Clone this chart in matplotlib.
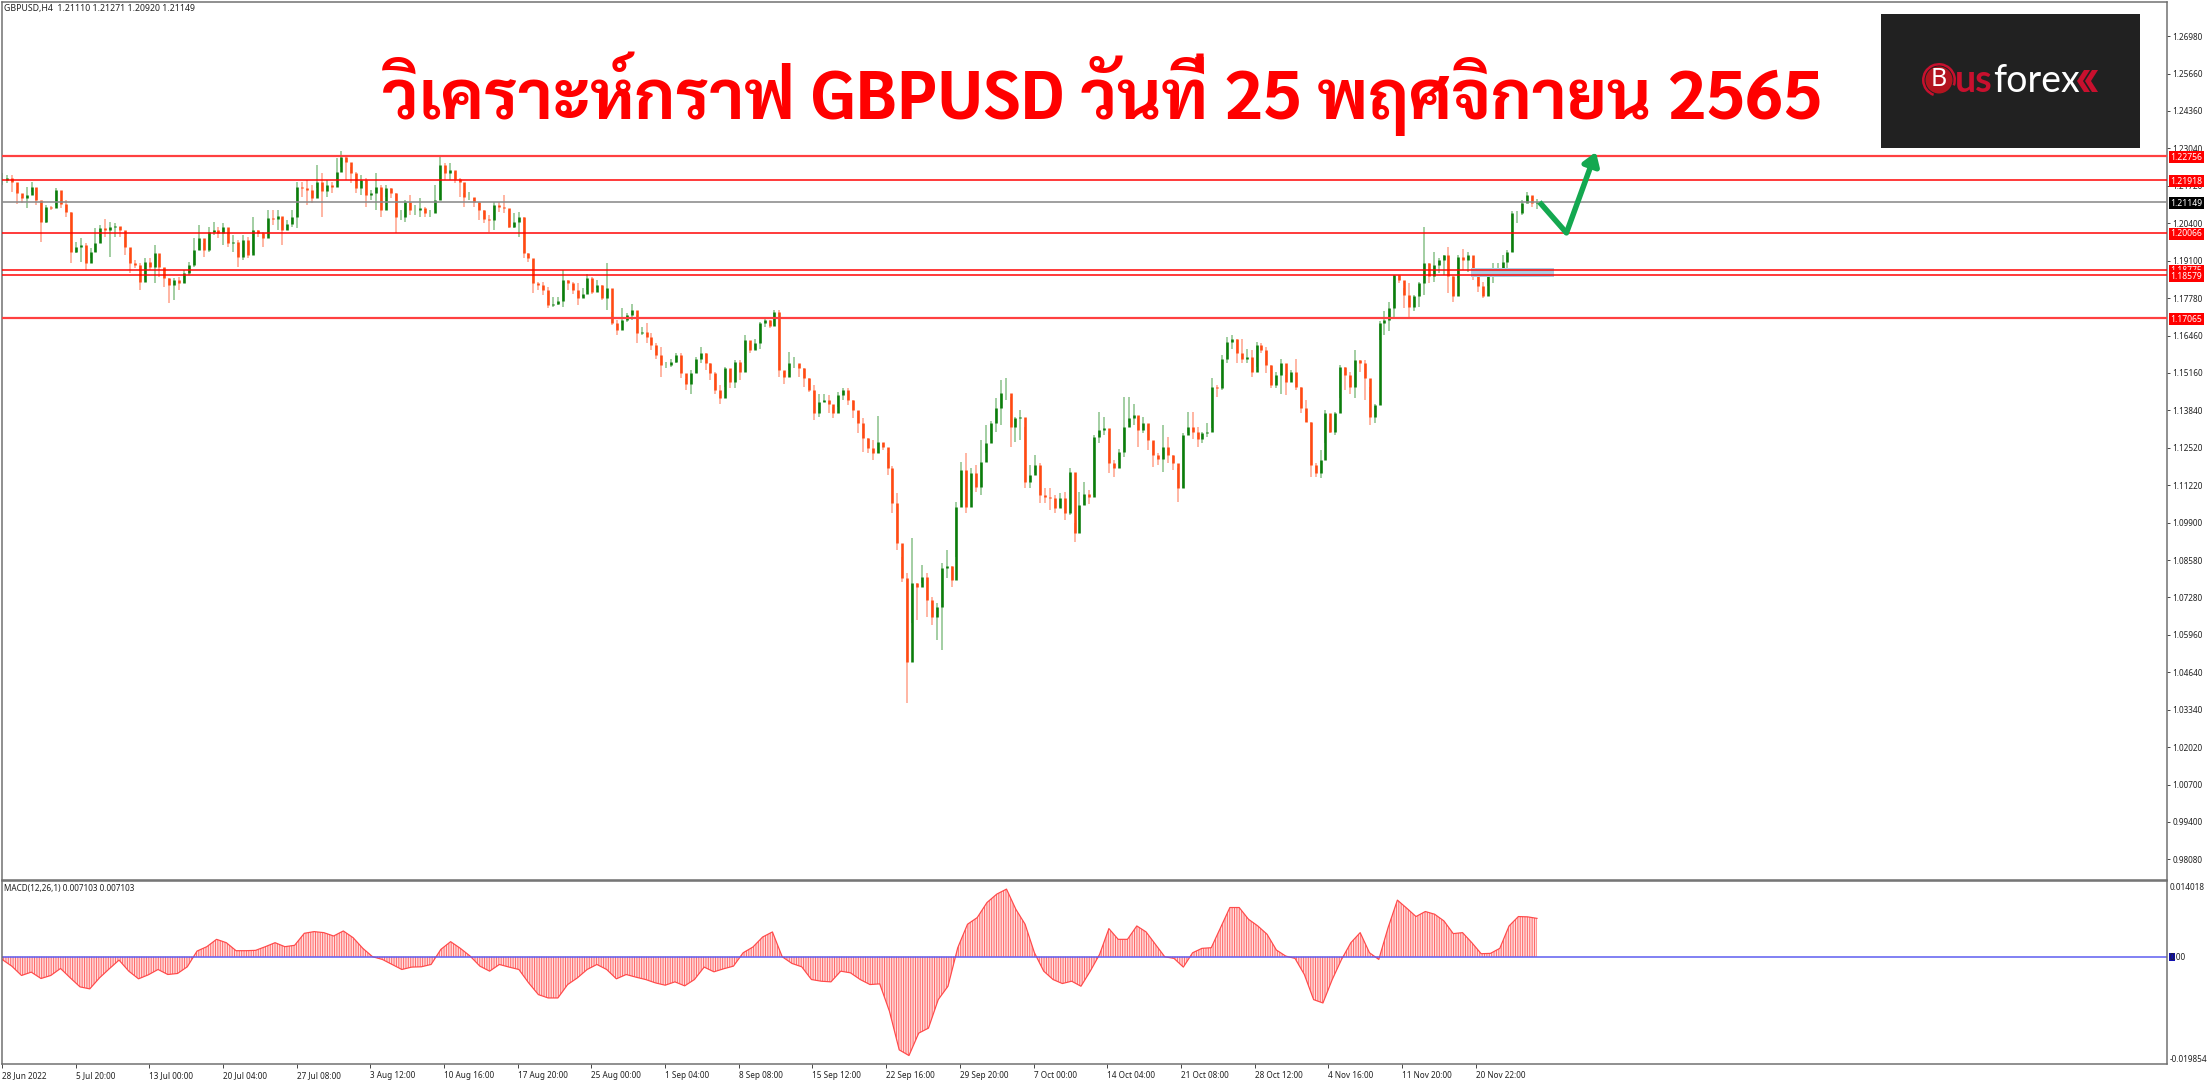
import numpy as np
from matplotlib import pyplot as plt
from matplotlib.patches import Rectangle, Circle, Polygon, Wedge

# prices in 1/10000, one candle for every second H4 bar
closes = [12192,12198,12187,12146,12128,12140,12169,12122,12046,12097,12093,12157,12108,12081,11941,11956,11964,11900,11941,11970,12023,12017,12029,12031,12017,11959,11902,11894,11836,11906,11888,11935,11888,11847,11824,11842,11830,11865,11894,11947,11988,11947,12011,12017,12005,12029,11970,11976,11923,11982,11929,12017,12005,11988,12058,12054,12066,12017,12037,12064,12167,12163,12157,12128,12187,12155,12175,12169,12222,12274,12257,12216,12163,12192,12140,12146,12169,12087,12163,12146,12064,12064,12116,12087,12087,12093,12075,12075,12122,12245,12216,12228,12195,12187,12134,12134,12116,12087,12054,12052,12105,12099,12093,12029,12046,12064,11935,11918,11830,11824,11806,11754,
11759,11769,11841,11830,11806,11777,11794,11847,11800,11824,11777,11815,11689,11666,11701,11718,11736,11654,11660,11642,11613,11578,11543,11543,11555,11578,11514,11478,11514,11563,11584,11549,11514,11455,11426,11531,11484,11555,11519,11631,11596,11619,11689,11701,11680,11730,11525,11502,11549,11549,11531,11496,11455,11373,11414,11422,11408,11373,11438,11455,11420,11385,
11339,11286,11251,11233,11274,11257,11181,11058,10918,10795,10502,10777,10765,10800,10719,10660,10695,10830,10836,10789,11046,11175,11046,11163,11116,11204,11268,11339,11391,11444,11444,11327,11356,11362,11134,11157,11192,11087,11081,11075,11040,11075,11023,11169,10953,
11051,11092,11081,11291,11315,11321,11198,11180,11239,11326,11356,11367,11315,11338,11280,11227,11215,11256,11227,11198,11110,11297,11326,11309,11285,11303,11309,11467,11461,11566,11625,11633,11584,11566,11572,11519,11613,11595,11543,11473,11508,11549,11484,11519,11467,11391,11344,11192,11163,11209,11373,11309,11373,11537,11508,11467,11560,11549,11496,11361,11402,
11690,11702,11743,11860,11842,11789,11748,11784,11830,11900,11854,11895,11912,11930,11854,11784,11924,11912,11930,11877,11819,11784,11860,11877,11883,11906,11941,12076,12076,12111,12140,12113,12115]
highs = [12216,12210,12210,12157,12134,12169,12187,12163,12116,12105,12101,12163,12122,12122,12081,11976,11988,11970,11953,12023,12035,12054,12046,12040,12029,11994,11935,11912,11900,11918,11918,11964,11912,11882,11847,11847,11853,11877,11906,11988,12035,11970,12029,12046,12029,12040,12005,12000,11982,12000,11994,12064,12017,12011,12087,12087,12087,12058,12052,12087,12187,12187,12192,12175,12245,12216,12192,12187,12269,12294,12280,12239,12222,12210,12198,12157,12216,12175,12175,12163,12146,12087,12122,12140,12105,12128,12099,12087,12175,12274,12251,12251,12222,12198,12146,12152,12128,12116,12087,12070,12116,12116,12140,12087,12075,12081,12064,11935,11912,11836,11836,11818,
11783,11783,11876,11841,11835,11830,11812,11862,11851,11841,11824,11900,11730,11701,11742,11724,11759,11718,11677,11691,11654,11619,11607,11555,11566,11586,11584,11493,11525,11572,11607,11586,11549,11519,11473,11537,11525,11560,11560,11648,11619,11636,11695,11710,11701,11736,11736,11519,11590,11572,11543,11531,11496,11473,11443,11443,11438,11397,11449,11461,11461,11420,
11380,11356,11286,11280,11364,11268,11233,11187,11093,10871,10812,10935,10777,10841,10812,10730,10707,10847,10894,10836,11064,11204,11233,11181,11192,11280,11333,11345,11426,11491,11497,11432,11362,11385,11327,11192,11228,11198,11111,11111,11087,11093,11099,11181,10988,
11098,11133,11104,11297,11379,11362,11309,11209,11250,11432,11432,11408,11362,11362,11332,11274,11233,11332,11289,11227,11180,11303,11379,11379,11326,11309,11338,11496,11473,11578,11642,11648,11636,11636,11601,11595,11625,11619,11607,11543,11519,11566,11508,11525,11563,11467,11420,11344,11198,11244,11385,11344,11379,11543,11537,11519,11595,11560,11560,11467,11408,
11696,11731,11766,11860,11860,11813,11830,11789,11836,12027,11900,11941,11918,11930,11959,11854,11930,11950,11941,11901,11883,11836,11865,11901,11901,11930,11947,12082,12082,12123,12152,12134,12127]
lows = [12175,12181,12152,12108,12111,12093,12152,12105,11976,12040,12087,12105,12093,12064,11900,11935,11906,11877,11918,11941,11994,11994,11923,11994,11994,11929,11865,11882,11806,11842,11877,11830,11853,11818,11760,11771,11806,11830,11859,11888,11947,11923,11941,12000,11988,11964,11959,11941,11888,11912,11918,11935,11994,11959,12005,12035,12017,11964,12017,12029,12023,12134,12105,12111,12163,12064,12134,12146,12192,12239,12192,12181,12146,12140,12099,12122,12087,12064,12134,12128,12005,12052,12046,12070,12070,12064,12064,12061,12087,12122,12192,12192,12181,12134,12099,12122,12099,12052,12040,12011,12017,12081,12075,12023,12023,11994,11918,11906,11795,11806,11789,11742,
11748,11753,11748,11806,11794,11753,11783,11806,11794,11812,11771,11736,11683,11648,11689,11695,11701,11619,11648,11619,11595,11566,11502,11531,11537,11549,11496,11455,11443,11514,11549,11525,11490,11443,11406,11467,11461,11461,11490,11549,11584,11601,11601,11677,11672,11683,11502,11478,11525,11531,11502,11467,11449,11350,11362,11414,11373,11356,11397,11420,11402,11356,
11304,11239,11233,11210,11233,11245,11157,11023,10894,10783,10356,10637,10648,10777,10660,10631,10578,10543,10795,10765,10871,11070,11023,11105,11099,11087,11233,11280,11309,11333,11421,11257,11274,11280,11110,11110,11163,11058,11058,11034,11023,11046,11000,11017,10923,
10999,11051,11057,11087,11268,11297,11163,11151,11209,11221,11344,11332,11256,11303,11245,11186,11192,11168,11198,11174,11063,11110,11303,11285,11256,11268,11291,11321,11432,11455,11549,11601,11549,11549,11549,11502,11537,11584,11514,11461,11461,11443,11438,11490,11455,11373,11344,11151,11149,11145,11268,11303,11297,11426,11455,11443,11426,11519,11420,11332,11338,
11631,11649,11661,11713,11830,11743,11713,11731,11748,11789,11830,11836,11865,11860,11795,11766,11848,11877,11871,11842,11801,11778,11819,11830,11854,11877,11871,11941,12041,12070,12111,12099,12092]

# MACD in 1/100000, one value for about every fourth H4 bar
macd = [-50,-174,-347,-285,-403,-347,-217,-391,-558,-595,-391,-223,-62,-267,-409,-335,-236,-329,-310,-186,105,186,322,260,112,112,118,186,260,186,211,434,465,446,384,477,353,155,0,-50,-143,-236,-192,-186,-143,136,279,155,12,-174,-267,
-143,-192,-236,-484,-701,-763,-763,-515,-391,-236,-143,-236,-409,-329,-378,-422,-484,-527,-465,-539,-422,-192,-279,-223,-174,74,180,366,459,0,-124,-186,-422,-453,-465,-267,-298,-422,-515,-502,-1011,-1724,-1829,-1414,-1321,-794,-546,167,601,725,1004,1159,
1252,880,601,74,-267,-422,-496,-453,-546,-267,43,521,322,322,570,459,229,0,-31,-192,74,155,167,539,911,911,694,570,415,124,12,-31,-329,-794,-856,-422,-50,260,446,74,-50,539,1048,899,744,837,787,663,428,446,260,56,62,155,570,744,738,710]

y_ticks = [1.26980,1.25660,1.24360,1.23040,1.21720,1.20400,1.19100,1.17780,1.16460,1.15160,1.13840,1.12520,1.11220,1.09900,1.08580,1.07280,1.05960,1.04640,1.03340,1.02020,1.00700,0.99400,0.98080]
x_labels = ['28 Jun 2022','5 Jul 20:00','13 Jul 00:00','20 Jul 04:00','27 Jul 08:00','3 Aug 12:00','10 Aug 16:00','17 Aug 20:00','25 Aug 00:00','1 Sep 04:00','8 Sep 08:00','15 Sep 12:00','22 Sep 16:00','29 Sep 20:00','7 Oct 00:00','14 Oct 04:00','21 Oct 08:00','28 Oct 12:00','4 Nov 16:00','11 Nov 20:00','20 Nov 22:00']
levels = [1.22756,1.21918,1.20066,1.18775,1.18579,1.17065]
last_price = 1.21149
arrow_x = [626,637,649]
arrow_y = [1.2115,1.2007,1.2291]
zone_x = [598,632]
zone_y = [1.1852,1.1882]

W,H = 2209,1080
LAST_BAR = 625

plt.rcParams['font.family'] = ['Noto Sans','DejaVu Sans']
plt.rcParams['hatch.linewidth'] = 0.72

def box(x0,y0,x1,y1):
    return [x0/W,1-y1/H,(x1-x0)/W,(y1-y0)/H]

fig = plt.figure(figsize=(W/100,H/100),dpi=100,facecolor='white')
ax = fig.add_axes(box(2,2,2167,880))
ax2 = fig.add_axes(box(2,881,2167,1064))
px = 72/100
border = '#6e6e6e'

c = np.array(closes)/1e4
h = np.array(highs)/1e4
l = np.array(lows)/1e4
o = np.r_[c[0],c[:-1]]
x = np.linspace(0,LAST_BAR,len(c))
up = c>=o

ax.vlines(x[up],l[up],h[up],color='#86c086',lw=1.5*px)
ax.vlines(x[~up],l[~up],h[~up],color='#ffa088',lw=1.5*px)
ax.vlines(x[up],o[up],c[up],color='#0b7d0b',lw=2.6*px)
ax.vlines(x[~up],o[~up],c[~up],color='#ff4a12',lw=2.6*px)

ax.add_patch(Rectangle((zone_x[0],zone_y[0]),zone_x[1]-zone_x[0],zone_y[1]-zone_y[0],fc='#a9cfe6',ec='none',zorder=3))
ax.axhline(last_price,color='#8a8a8a',lw=1.6*px,zorder=4)
for lv in levels:
    thick = lv in (levels[0],levels[5])
    ax.axhline(lv,color='#ff4040' if thick else '#ff0000',lw=(2.2 if thick else 1.5)*px,zorder=4)

ax.plot(arrow_x[:2],arrow_y[:2],color='#14a850',lw=5.5*px,zorder=5,solid_capstyle='butt')
ax.annotate('',xy=(arrow_x[2],arrow_y[2]),xytext=(arrow_x[1],arrow_y[1]),zorder=5,
    arrowprops=dict(arrowstyle='-|>,head_length=0.75,head_width=0.5',color='#14a850',lw=5.5*px,shrinkA=0,shrinkB=0))

ax.set_xlim(0,2165/2.456)
ax.set_ylim(1.2698-844/2849,1.2698+34/2849)
ax.yaxis.tick_right()
ax.set_yticks(y_ticks)
ax.set_yticklabels(['%.5f'%v for v in y_ticks],fontsize=5.9,color='#222222')
ax.tick_params(axis='y',length=2,width=0.7,pad=2,color='#444444')
ax.set_xticks([])

for lv,col in list(zip(levels,['red']*6))+[(last_price,'black')]:
    z = 7 if lv!=levels[3] else 6
    ax.annotate('%.5f'%lv,xy=(1,lv),xycoords=ax.get_yaxis_transform(),xytext=(3.4*px,-0.9*px),textcoords='offset points',
        va='center',ha='left',fontsize=6.2,color='white',annotation_clip=False,zorder=z,
        bbox=dict(fc='#000000' if col=='black' else '#ff0000',ec='none',pad=1.1))

m = np.array(macd)/1e5
mx = np.r_[np.linspace(0,409,104),np.linspace(409,LAST_BAR,58)[1:]]
plt.rcParams['hatch.color'] = '#ff7070'
ax2.fill_between(mx,m,0,facecolor='#ffdede',edgecolor='#ff6a6a',hatch='|'*7,linewidth=0)
ax2.plot(mx,m,color='#ff4a4a',lw=1.2*px)
ax2.axhline(0,color='#5a5af0',lw=1.5*px)
ax2.set_xlim(0,2165/2.456)
ax2.set_ylim(-0.019854,0.014018)
ax2.yaxis.tick_right()
ax2.set_yticks([0.014018,0.0,-0.019854])
ax2.set_yticklabels([])
ax2.tick_params(axis='y',length=0)
ticks = np.arange(len(x_labels))*30
ax2.set_xticks(ticks)
ax2.set_xticklabels(x_labels,fontsize=5.9,color='#222222',ha='left')
ax2.tick_params(axis='x',length=3,width=0.7,pad=2,color='#444444')
for a in (ax,ax2):
    for s in a.spines.values():
        s.set_color(border)
        s.set_linewidth(1.5*px)

# overlay in pixels for header, title and logo
ov = fig.add_axes([0,0,1,1],facecolor='none')
ov.set_xlim(0,W)
ov.set_ylim(H,0)
ov.axis('off')
ov.text(3.5,8,'GBPUSD,H4  1.21110 1.21271 1.20920 1.21149',fontsize=6.3,va='center',color='#222222')
ov.text(4,888,'MACD(12,26,1) 0.007103 0.007103',fontsize=5.9,va='center',color='#222222')
ov.text(2170,887,'0.014018',fontsize=5.9,va='center',color='#222222')
ov.text(2170,1059,'-0.019854',fontsize=5.9,va='center',color='#222222')
ov.add_patch(Rectangle((2169,953),6,8,fc='#1010b0',ec='none'))
ov.text(2170,957,'0.00',fontsize=5.9,va='center',color='#222222')
ov.text(1103,119,'วิเคราะห์กราฟ GBPUSD วันที่ 25 พฤศจิกายน 2565',fontsize=49.3,fontweight='bold',color='#ff0000',ha='center',va='baseline',
        family=['Sarabun','IBM Plex Sans Thai','Noto Sans Thai','DejaVu Sans'])
ov.add_patch(Rectangle((1881,14),259,134,fc='#212121',ec='none'))
ov.add_patch(Wedge((1939,80),17,110,380,width=2.5,fc='#c8102e',ec='none'))
ov.add_patch(Circle((1939,80),13.5,fc='#b3141f',ec='none'))
ov.text(1939,80,'B',fontsize=18,fontweight='bold',color='white',ha='center',va='center')
ov.text(1955,92,'us',fontsize=27,fontweight='bold',color='#c8102e',ha='left',va='baseline',family='Lato')
ov.text(1993,92,'forex',fontsize=27,color='white',ha='left',va='baseline',family='Lato')
ov.add_patch(Polygon([[2084,70],[2090,70],[2083,81],[2090,92],[2084,92],[2077,81]],fc='#c8102e',ec='none'))
ov.add_patch(Polygon([[2092,70],[2098,70],[2091,81],[2098,92],[2092,92],[2085,81]],fc='#c8102e',ec='none'))

fig.savefig('out.png',dpi=100)
